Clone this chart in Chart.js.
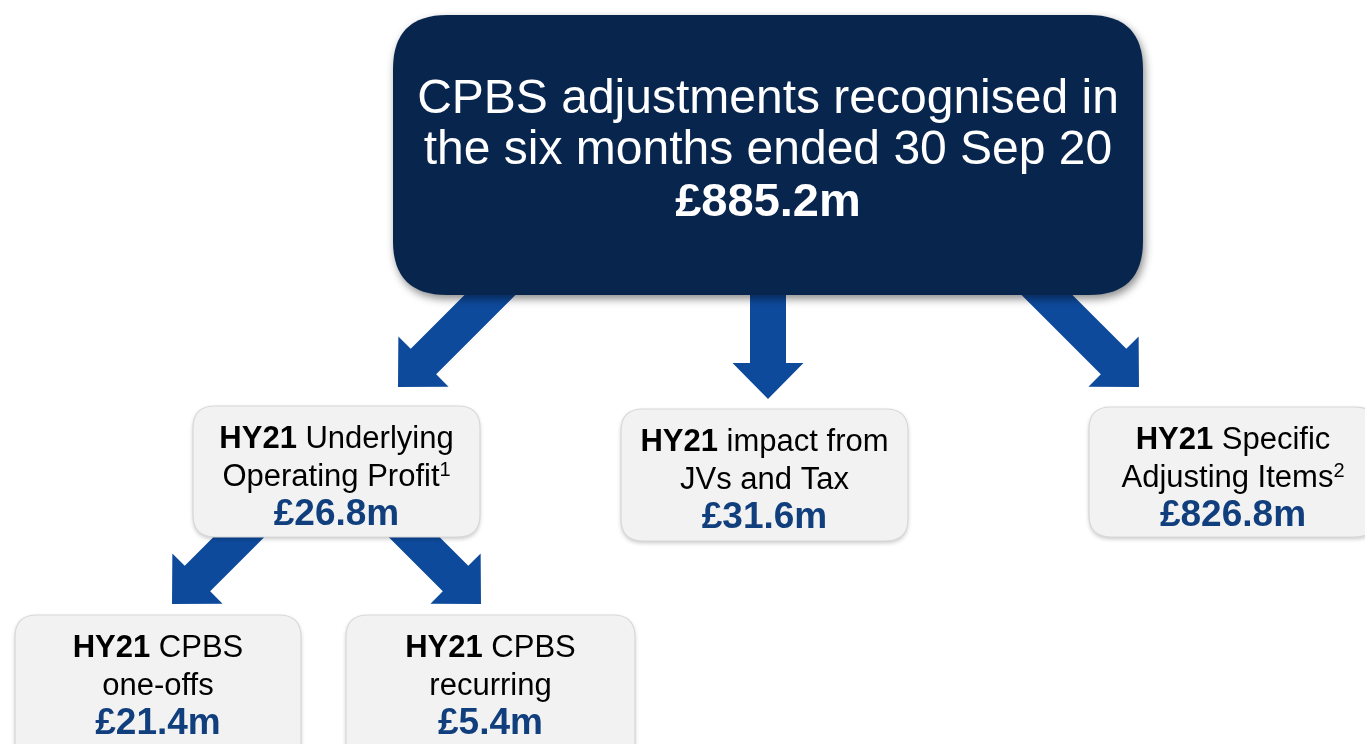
<!DOCTYPE html>
<html><head><meta charset="utf-8">
<script src="https://cdn.jsdelivr.net/npm/chart.js@4.4.1/dist/chart.umd.min.js"></script>
<style>html,body{margin:0;padding:0;background:#fff}canvas{display:block}</style>
</head><body>
<canvas id="flow" width="1365" height="744"></canvas>
<script>
// data
const nodePrefix = ['', 'HY21', 'HY21', 'HY21', 'HY21', 'HY21'];
const nodeLines = [
  ['CPBS adjustments recognised in', 'the six months ended 30 Sep 20'],
  [' Underlying', 'Operating Profit^1'],
  [' impact from', 'JVs and Tax'],
  [' Specific', 'Adjusting Items^2'],
  [' CPBS', 'one-offs'],
  [' CPBS', 'recurring']
];
const nodeValues = [885.2, 26.8, 31.6, 826.8, 21.4, 5.4];
const links = [[0, 1], [0, 2], [0, 3], [1, 4], [1, 5]];

// layout (axis units = px)
const boxX0 = [393, 193, 621, 1089, 15, 346];
const boxX1 = [1143, 480, 908, 1377, 301, 635];
const boxY0 = [15, 406, 409, 407, 615, 615];
const boxY1 = [295, 537, 541, 537, 770, 770];
const tipX = [398, 768, 1139, 172, 481];
const tipY = [387, 399, 387, 604, 604];
const tipDir = [[-1, 1], [0, 1], [1, 1], [-1, 1], [1, 1]];

const FONT = '"Liberation Sans", Arial, Helvetica, sans-serif';
const ARROW = '#0e4a9c';
const NAVY = '#08254e';
const VALUE_BLUE = '#113f7d';

const fmtValue = v => '£' + v.toFixed(1) + 'm';

function roundRect(ctx, x0, y0, x1, y1, r) {
  ctx.beginPath();
  ctx.moveTo(x0 + r, y0);
  ctx.lineTo(x1 - r, y0);
  ctx.quadraticCurveTo(x1, y0, x1, y0 + r);
  ctx.lineTo(x1, y1 - r);
  ctx.quadraticCurveTo(x1, y1, x1 - r, y1);
  ctx.lineTo(x0 + r, y1);
  ctx.quadraticCurveTo(x0, y1, x0, y1 - r);
  ctx.lineTo(x0, y0 + r);
  ctx.quadraticCurveTo(x0, y0, x0 + r, y0);
  ctx.closePath();
}

// split a line into runs: bold prefix, normal text, ^n superscript
function lineRuns(text, size, bold, prefix) {
  const runs = [];
  if (prefix) runs.push({ t: prefix, f: 'bold ' + size + 'px ' + FONT, dy: 0 });
  const parts = text.split('^');
  runs.push({ t: parts[0], f: (bold ? 'bold ' : '') + size + 'px ' + FONT, dy: 0 });
  if (parts[1]) runs.push({ t: parts[1], f: Math.round(size * 0.64) + 'px ' + FONT, dy: -size * 0.33 });
  return runs;
}

function drawRuns(ctx, runs, cx, y, color) {
  let w = 0;
  runs.forEach(r => { ctx.font = r.f; r.w = ctx.measureText(r.t).width; w += r.w; });
  let x = cx - w / 2;
  ctx.fillStyle = color;
  ctx.textAlign = 'left';
  ctx.textBaseline = 'alphabetic';
  runs.forEach(r => { ctx.font = r.f; ctx.fillText(r.t, x, y + r.dy); x += r.w; });
}

const flowPlugin = {
  id: 'flowPlugin',
  afterDatasetsDraw(chart) {
    const ctx = chart.ctx;
    const xs = chart.scales.x, ys = chart.scales.y;
    const px = v => xs.getPixelForValue(v), py = v => ys.getPixelForValue(v);

    // arrows
    links.forEach(([from], i) => {
      const tx = px(tipX[i]), ty = py(tipY[i]);
      const len = Math.hypot(tipDir[i][0], tipDir[i][1]);
      const dx = tipDir[i][0] / len, dy = tipDir[i][1] / len;
      const nx = -dy, ny = dx;
      const L = (ty - (py(boxY1[from]) - 40)) / dy;
      const sw = 36, hw = 71, hl = 36;
      const bx = tx - dx * hl, by = ty - dy * hl;
      const ax = tx - dx * L, ay = ty - dy * L;
      ctx.save();
      ctx.fillStyle = ARROW;
      ctx.beginPath();
      ctx.moveTo(ax + nx * sw / 2, ay + ny * sw / 2);
      ctx.lineTo(bx + nx * sw / 2, by + ny * sw / 2);
      ctx.lineTo(bx + nx * hw / 2, by + ny * hw / 2);
      ctx.lineTo(tx, ty);
      ctx.lineTo(bx - nx * hw / 2, by - ny * hw / 2);
      ctx.lineTo(bx - nx * sw / 2, by - ny * sw / 2);
      ctx.lineTo(ax - nx * sw / 2, ay - ny * sw / 2);
      ctx.closePath();
      ctx.fill();
      ctx.restore();
    });

    // boxes + text
    nodeValues.forEach((v, i) => {
      const x0 = px(boxX0[i]), x1 = px(boxX1[i]), y0 = py(boxY0[i]), y1 = py(boxY1[i]);
      const cx = (x0 + x1) / 2;
      const top = i === 0;
      ctx.save();
      ctx.shadowColor = top ? 'rgba(0,0,0,0.45)' : 'rgba(0,0,0,0.22)';
      ctx.shadowBlur = top ? 8 : 4;
      ctx.shadowOffsetX = top ? 2 : 0;
      ctx.shadowOffsetY = top ? 4 : 2;
      roundRect(ctx, x0, y0, x1, y1, top ? 54 : 22);
      ctx.fillStyle = top ? NAVY : '#f2f2f2';
      ctx.fill();
      ctx.restore();
      if (!top) {
        ctx.save();
        roundRect(ctx, x0, y0, x1, y1, 22);
        ctx.strokeStyle = '#d8d8d8';
        ctx.lineWidth = 1.2;
        ctx.stroke();
        ctx.restore();
      }
      if (top) {
        drawRuns(ctx, lineRuns(nodeLines[i][0], 48, false, ''), cx, y0 + 98, '#ffffff');
        drawRuns(ctx, lineRuns(nodeLines[i][1], 48, false, ''), cx, y0 + 149, '#ffffff');
        drawRuns(ctx, lineRuns(fmtValue(v), 47, true, ''), cx, y0 + 201, '#ffffff');
      } else {
        drawRuns(ctx, lineRuns(nodeLines[i][0], 31, false, nodePrefix[i]), cx, y0 + 42, '#000000');
        drawRuns(ctx, lineRuns(nodeLines[i][1], 31, false, ''), cx, y0 + 80, '#000000');
        drawRuns(ctx, lineRuns(fmtValue(v), 37, true, ''), cx, y0 + 119, VALUE_BLUE);
      }
    });
  }
};

const centers = nodeValues.map((v, i) => ({ x: (boxX0[i] + boxX1[i]) / 2, y: (boxY0[i] + boxY1[i]) / 2 }));

new Chart(document.getElementById('flow'), {
  type: 'scatter',
  data: { datasets: [{ data: centers, pointRadius: 0, pointHoverRadius: 0 }] },
  options: {
    responsive: false,
    animation: false,
    events: [],
    layout: { padding: 0 },
    plugins: { legend: { display: false }, tooltip: { enabled: false } },
    scales: {
      x: { type: 'linear', min: 0, max: 1365, display: false },
      y: { type: 'linear', min: 0, max: 744, reverse: true, display: false }
    }
  },
  plugins: [flowPlugin]
});
</script>
</body></html>
